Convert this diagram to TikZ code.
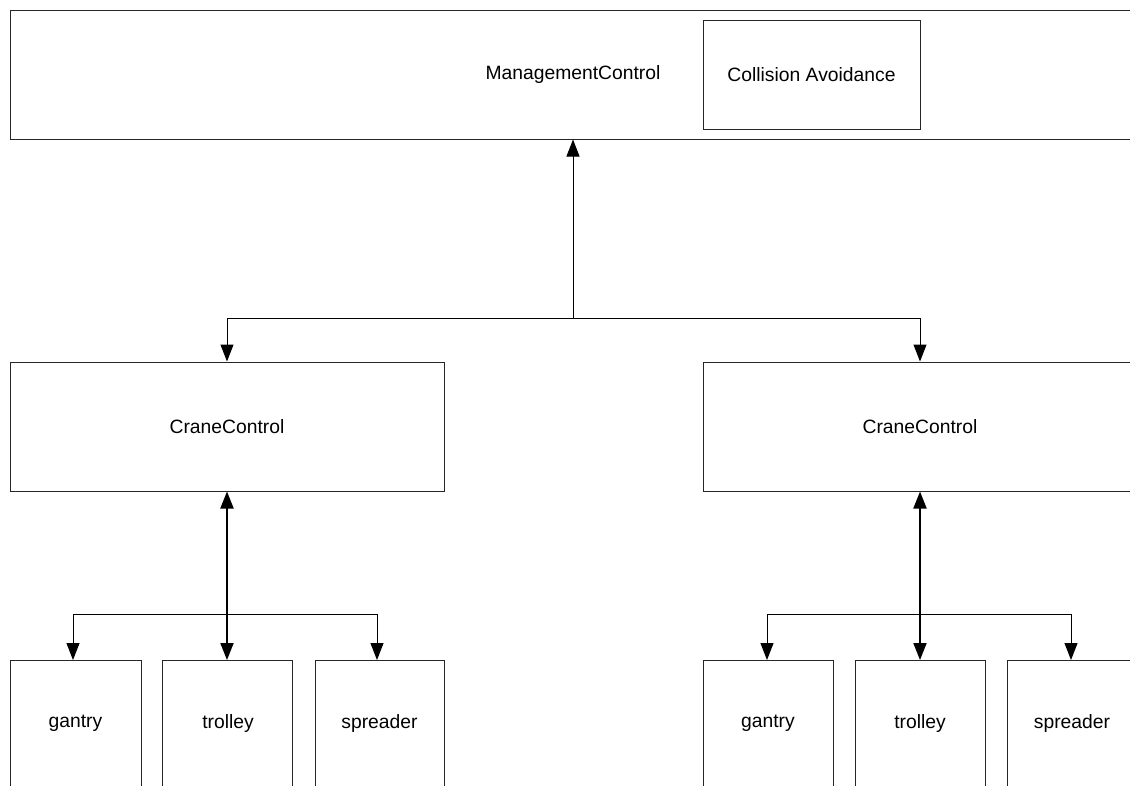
\documentclass[tikz,border=0pt]{standalone}
\usepackage{fontspec}
\setmainfont{Liberation Sans}
\usetikzlibrary{arrows.meta}
\begin{document}
\begin{tikzpicture}[x=1pt,y=-1pt,
  lbl/.style={font=\fontsize{19.3}{23}\selectfont},
  box/.style={draw=black!85, line width=1pt, inner sep=0pt, lbl},
  arr/.style={line width=1pt, -{Triangle[length=17pt,width=13pt]}},
  both/.style={line width=2pt, {Triangle[length=17pt,width=13pt]}-{Triangle[length=17pt,width=13pt]}}]
\useasboundingbox (0,0) rectangle (1130,785);
\clip (0,0) rectangle (1130,785);
\fill[white] (0,0) rectangle (1130,785);
% top
\node[box, minimum width=1126pt, minimum height=129pt] (mc) at (573,74.5) {ManagementControl};
\node[box, minimum width=217pt, minimum height=109pt] (ca) at (811.5,74.5) {Collision Avoidance};
% cranes
\node[box, minimum width=434pt, minimum height=129pt] (cl) at (227,426.5) {CraneControl};
\node[box, minimum width=434pt, minimum height=129pt] (cr) at (920,426.5) {CraneControl};
% children left
\node[box, minimum width=131pt, minimum height=126pt, anchor=north] (gl) at (75.5,660) {};
\node[box, minimum width=130pt, minimum height=126pt, anchor=north] (tl) at (227.5,660) {};
\node[box, minimum width=129pt, minimum height=126pt, anchor=north] (sl) at (379.5,660) {};
\node[lbl] (glt) at (75.5,723) {gantry};
\node[lbl] (tlt) at (228,723) {trolley};
\node[lbl] (slt) at (379.5,723) {spreader};
% children right
\node[box, minimum width=130pt, minimum height=126pt, anchor=north] (gr) at (768,660) {};
\node[box, minimum width=130pt, minimum height=126pt, anchor=north] (tr) at (920,660) {};
\node[box, minimum width=130pt, minimum height=126pt, anchor=north] (sr) at (1072,660) {};
\node[lbl] (grt) at (768,723) {gantry};
\node[lbl] (trt) at (920,723) {trolley};
\node[lbl] (srt) at (1072,723) {spreader};
% connectors top
\coordinate (j1) at (573,318);
\draw[arr] (j1) -- (mc.south);
\draw[arr] (j1) -| (cl.north);
\draw[arr] (j1) -| (cr.north);
% left crane
\coordinate (j2) at (227,614);
\draw[both] (cl.south) -- (cl.south |- tl.north);
\draw[arr] (j2) -| ([xshift=-2.5pt]gl.north);
\draw[arr] (j2) -| ([xshift=-2.5pt]sl.north);
% right crane
\coordinate (j3) at (920,614);
\draw[both] (cr.south) -- (tr.north);
\draw[arr] (j3) -| ([xshift=-1pt]gr.north);
\draw[arr] (j3) -| ([xshift=-1pt]sr.north);
\end{tikzpicture}
\end{document}
